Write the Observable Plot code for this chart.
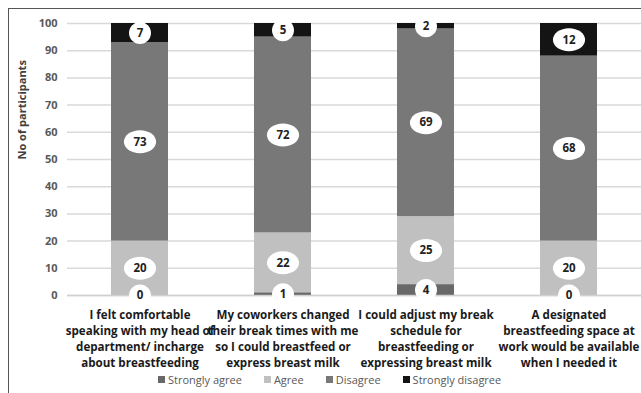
<!DOCTYPE html>
<html>
<head>
<meta charset="utf-8">
<script src="https://cdn.jsdelivr.net/npm/d3@7"></script>
<script src="https://cdn.jsdelivr.net/npm/@observablehq/plot@0.6"></script>
<style>
  html, body { margin: 0; padding: 0; background: #fff; }
  #wrap { position: relative; width: 641px; height: 393px; overflow: hidden; font-family: "Open Sans", sans-serif; }
  #frame { position: absolute; left: 8px; top: 8px; width: 700px; height: 400px; border-left: 1.5px solid #555; border-top: 1.5px solid #555; pointer-events: none; }
  #chart { position: absolute; left: 0; top: 0; }
  #legend { position: absolute; left: 158px; top: 372px; display: flex; gap: 22px; font-size: 11px; color: #595959; }
  #legend span.item { display: flex; align-items: center; gap: 3px; }
  #legend span.sw { display: inline-block; width: 7px; height: 7px; }
</style>
</head>
<body>
<div id="wrap">
  <div id="chart"></div>
  <div id="frame"></div>
  <div id="legend"></div>
</div>
<script>
const categories = [
  "I felt comfortable\nspeaking with my head of\ndepartment/ incharge\nabout breastfeeding",
  "My coworkers changed\ntheir break times with me\nso I could breastfeed or\nexpress breast milk",
  "I could adjust my break\nschedule for\nbreastfeeding or\nexpressing breast milk",
  "A designated\nbreastfeeding space at\nwork would be available\nwhen I needed it"
];
const seriesNames = ["Strongly agree", "Agree", "Disagree", "Strongly disagree"];
const stronglyAgree = [0, 1, 4, 0];
const agree = [20, 22, 25, 20];
const disagree = [73, 72, 69, 68];
const stronglyDisagree = [7, 5, 2, 12];
const seriesColors = ["#686868", "#c0c0c0", "#787878", "#141414"];
const yTicks = [0, 10, 20, 30, 40, 50, 60, 70, 80, 90, 100];
const yLabel = "No of participants";

const seriesValues = [stronglyAgree, agree, disagree, stronglyDisagree];
const rows = [];
categories.forEach((c, ci) => {
  let base = 0;
  seriesNames.forEach((s, si) => {
    const v = seriesValues[si][ci];
    rows.push({category: c, series: s, value: v, y1: base, y2: base + v, mid: base + v / 2});
    base += v;
  });
});

function ellipseSymbol(ratio) {
  return {
    draw(ctx, size) {
      const r = Math.sqrt(size / Math.PI);
      const rx = r * ratio, ry = r, k = 0.5523;
      ctx.moveTo(rx, 0);
      ctx.bezierCurveTo(rx, ry * k, rx * k, ry, 0, ry);
      ctx.bezierCurveTo(-rx * k, ry, -rx, ry * k, -rx, 0);
      ctx.bezierCurveTo(-rx, -ry * k, -rx * k, -ry, 0, -ry);
      ctx.bezierCurveTo(rx * k, -ry, rx, -ry * k, rx, 0);
      ctx.closePath();
    }
  };
}

const twoDigit = rows.filter(d => String(d.value).length > 1);
const oneDigit = rows.filter(d => String(d.value).length === 1);
const font = "'Open Sans', sans-serif";

const plot = Plot.plot({
  width: 641,
  height: 393,
  marginTop: 23,
  marginBottom: 98,
  marginLeft: 67,
  marginRight: 0,
  style: {fontFamily: font, background: "transparent"},
  x: {domain: categories, paddingInner: 0.6, paddingOuter: 0.3, label: null},
  y: {domain: [0, 100], label: null},
  color: {domain: seriesNames, range: seriesColors},
  marks: [
    Plot.gridY(yTicks, {stroke: "#d9d9d9", strokeOpacity: 1, strokeWidth: 1.5}),
    Plot.barY(rows, {x: "category", y1: "y1", y2: "y2", fill: "series"}),
    Plot.ruleY([0], {stroke: "#d0d0d0", strokeWidth: 1.5}),
    Plot.dot(twoDigit, {x: "category", y: "mid", r: 11.5, fill: "white", stroke: "none", symbol: ellipseSymbol(1.4)}),
    Plot.dot(oneDigit, {x: "category", y: "mid", r: 11, fill: "white", stroke: "none", symbol: ellipseSymbol(1.0)}),
    Plot.text(rows, {x: "category", y: "mid", text: d => String(d.value), fill: "#222", fontWeight: "bold", fontSize: 11.5}),
    Plot.axisY(yTicks, {tickSize: 0, tickPadding: 10, fontWeight: "bold", fontSize: 11, fill: "#595959", label: null}),
    Plot.axisX({tickSize: 0, tickPadding: 12, fontWeight: "bold", fontSize: 11.6, fill: "#1a1a1a", lineHeight: 1.38, label: null, tickFormat: d => d}),
    Plot.text([yLabel], {frameAnchor: "left", rotate: -90, dx: -45, fontWeight: "bold", fontSize: 11, fill: "#404040"})
  ]
});
document.getElementById("chart").appendChild(plot);

const legend = document.getElementById("legend");
seriesNames.forEach((s, i) => {
  const item = document.createElement("span");
  item.className = "item";
  const sw = document.createElement("span");
  sw.className = "sw";
  sw.style.background = seriesColors[i];
  const t = document.createElement("span");
  t.textContent = s;
  item.appendChild(sw);
  item.appendChild(t);
  legend.appendChild(item);
});
</script>
</body>
</html>
